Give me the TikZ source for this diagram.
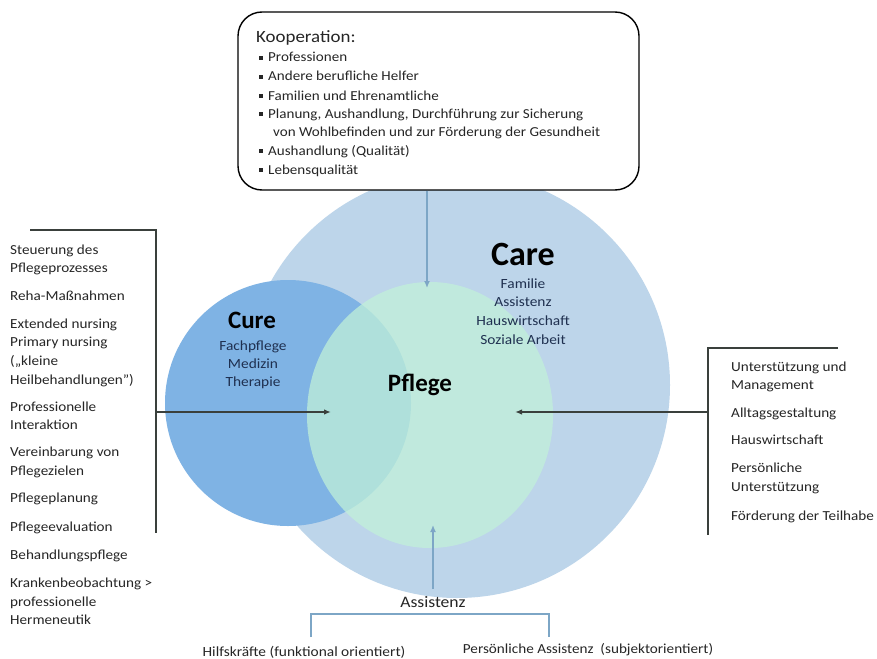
\documentclass[tikz,border=0pt]{standalone}
\usepackage{fontspec}
\setmainfont{Carlito}
\newfontfamily\widefont{Carlito}[FakeStretch=1.1]
\usetikzlibrary{arrows.meta}
\definecolor{careblue}{HTML}{BDD5EA}
\definecolor{cureblue}{HTML}{7FB3E4}
\definecolor{pflegegreen}{HTML}{C2F2D8}
\definecolor{steel}{HTML}{7DA6C6}
\definecolor{darkline}{HTML}{3A403C}
\definecolor{navy}{HTML}{1F3050}
\tikzset{
  listtxt/.style={anchor=base west, inner sep=0pt, font=\widefont\fontsize{13.8}{16}\selectfont, text=black!85},
  kooptxt/.style={anchor=base west, inner sep=0pt, font=\widefont\fontsize{13.7}{16}\selectfont, text=black!85},
  innertxt/.style={anchor=base, inner sep=0pt, font=\widefont\fontsize{14}{16}\selectfont, text=navy},
  darkarrow/.style={draw=darkline, line width=1.4pt, -{Latex[length=7pt,width=5.5pt]}},
  darkline/.style={draw=darkline, line width=1.3pt},
  steelarrow/.style={draw=steel, line width=2pt, -{Latex[length=7pt,width=6pt]}},
  steelline/.style={draw=steel, line width=1.5pt},
  bul/.style={fill=black!85, minimum size=3.4pt, inner sep=0pt},
}
\begin{document}
\begin{tikzpicture}[x=1pt,y=-1pt]
\useasboundingbox (0,0) rectangle (877,658);
\fill[white] (0,0) rectangle (877,658);
% circles
\fill[careblue] (457,385) circle[radius=213pt];
\fill[cureblue] (288,403) circle[radius=123pt];
\fill[pflegegreen, opacity=0.72] (430,415) ellipse[x radius=123pt, y radius=133pt];

% Kooperation box
\node[draw=black, line width=1.4pt, rounded corners=24pt, minimum width=401pt, minimum height=178pt, fill=white] (koop) at (438.5,101) {};
\node[anchor=base west, inner sep=0pt, font=\widefont\fontsize{17.2}{19}\selectfont, text=black!85] (kooptitle) at (256,43) {Kooperation:};
\foreach \n/\yy/\t in {k1/62/Professionen, k2/81/Andere berufliche Helfer, k3/100/Familien und Ehrenamtliche, k4/118/{Planung, Aushandlung, Durchführung zur Sicherung}, k6/155/Aushandlung (Qualität), k7/174/Lebensqualität}{
  \node[bul] (b\n) at (261,\yy-4) {};
  \node[kooptxt] (\n) at (268,\yy) {\t};
}
\node[kooptxt] (k5) at (273,136) {von Wohlbefinden und zur Förderung der Gesundheit};

% circle labels
\node[anchor=base, inner sep=0pt, font=\bfseries\fontsize{25}{28}\selectfont, text=black] (cure) at (252,328) {Cure};
\node[innertxt] (c1) at (253,350) {Fachpflege};
\node[innertxt] (c2) at (253,368) {Medizin};
\node[innertxt] (c3) at (253,386) {Therapie};
\node[anchor=base, inner sep=0pt, font=\bfseries\fontsize{34}{36}\selectfont, text=black] (care) at (523,265) {Care};
\node[innertxt] (a1) at (523,288) {Familie};
\node[innertxt] (a2) at (523,306) {Assistenz};
\node[innertxt] (a3) at (523,325) {Hauswirtschaft};
\node[innertxt] (a4) at (523,344) {Soziale Arbeit};
\node[anchor=base, inner sep=0pt, font=\bfseries\fontsize{25}{28}\selectfont, text=black] (pflege) at (420,391) {Pflege};

% arrow from box
\coordinate (ktip) at (427,288);
\draw[steelarrow] (koop.south -| ktip) -- (ktip);

% left list
\foreach \n/\yy/\t in {l1/254/Steuerung des, l2/272/Pflegeprozesses, l3/300/Reha-Maßnahmen, l4/328/Extended nursing /, l5/346/Primary nursing, l6/365/(„kleine, l7/384/Heilbehandlungen”), l8/411/Professionelle, l9/429/Interaktion, l10/456/Vereinbarung von, l11/475/Pflegezielen, l12/502/Pflegeplanung, l13/531/Pflegeevaluation, l14/559/Behandlungspflege, l15/587/Krankenbeobachtung >, l16/606/professionelle, l17/624/Hermeneutik}{
  \node[listtxt] (\n) at (10,\yy) {\t};
}
\coordinate (lt) at (30,230);
\coordinate (lc) at (156,230);
\coordinate (lb) at (156,533);
\coordinate (lm) at (156,412);
\coordinate (ltip) at (331,412);
\draw[darkline] (lt) -- (lc) -- (lb);
\draw[darkarrow] (lm) -- (ltip);

% right list
\foreach \n/\yy/\t in {r1/371/Unterstützung und, r2/389/Management, r3/417/Alltagsgestaltung, r4/444/Hauswirtschaft, r5/472/Persönliche, r6/491/Unterstützung, r7/520/Förderung der Teilhabe}{
  \node[listtxt] (\n) at (731,\yy) {\t};
}
\coordinate (rt) at (838,348);
\coordinate (rc) at (708,348);
\coordinate (rb) at (708,535);
\coordinate (rm) at (708,412);
\coordinate (rtip) at (515,412);
\draw[darkline] (rt) -- (rc) -- (rb);
\draw[darkarrow] (rm) -- (rtip);

% bottom
\node[anchor=base, inner sep=0pt, font=\widefont\fontsize{16}{18}\selectfont, text=black!85] (assist) at (433,607) {Assistenz};
\coordinate (btip) at (433,525);
\coordinate (bstart) at (433,589);
\draw[steelarrow] (bstart) -- (btip);
\coordinate (bl) at (311,614);
\coordinate (br) at (549,614);
\coordinate (bld) at (311,637);
\coordinate (brd) at (549,637);
\draw[steelline] (bld) -- (bl) -- (br) -- (brd);
\node[anchor=base, inner sep=0pt, font=\widefont\fontsize{14}{16}\selectfont, text=black!85] (hilf) at (304,656) {Hilfskräfte (funktional orientiert)};
\node[anchor=base, inner sep=0pt, font=\widefont\fontsize{13.8}{16}\selectfont, text=black!85] (pers) at (588,653) {Persönliche Assistenz~~(subjektorientiert)};
\end{tikzpicture}
\end{document}
